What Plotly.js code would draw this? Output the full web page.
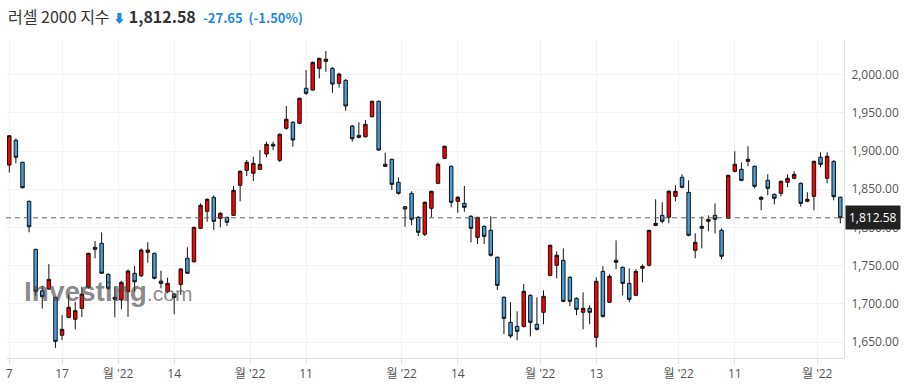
<!DOCTYPE html>
<html>
<head>
<meta charset="utf-8">
<script src="https://cdn.plot.ly/plotly-3.0.1.min.js"></script>
<style>html,body{margin:0;padding:0;background:#fff;}#chart{width:906px;height:390px;}</style>
</head>
<body>
<div id="chart"></div>
<script>
var openP = [1881.7,1914.0,1885.2,1834.2,1771.3,1717.1,1719.4,1708.5,1658.8,1682.3,1679.7,1694.1,1721.6,1774.0,1779.2,1738.6,1705.9,1705.0,1715.8,1740.0,
1736.8,1767.4,1766.1,1729.8,1715.8,1712.8,1725.5,1759.6,1755.1,1798.8,1821.1,1839.4,1811.9,1813.2,1815.8,1855.1,1874.7,1870.8,1876.0,1896.1,
1908.8,1887.8,1929.7,1937.6,1936.3,1982.1,1979.8,2008.2,2017.4,2008.2,1988.6,1992.5,1932.7,1920.5,1918.7,1944.9,1965.1,1880.0,1889.1,1859.0,
1827.1,1844.6,1813.2,1791.0,1825.0,1857.7,1890.4,1880.0,1834.2,1831.5,1814.5,1787.0,1801.4,1796.2,1760.9,1708.5,1675.8,1670.5,1670.5,1711.1,
1673.2,1688.9,1737.3,1750.4,1756.9,1734.7,1707.2,1688.9,1694.1,1656.2,1742.5,1702.0,1756.9,1747.8,1726.8,1711.1,1746.5,1750.4,1802.7,1815.8,
1813.2,1840.7,1865.6,1845.9,1770.0,1801.4,1808.0,1815.8,1796.2,1811.9,1873.4,1876.0,1886.5,1880.0,1836.8,1861.6,1843.3,1844.6,1859.0,1864.3,
1857.7,1834.2,1840.7,1891.8,1864.3,1886.5,1839.4];
var highP = [1921.0,1916.6,1886.0,1835.0,1772.0,1723.7,1752.0,1709.0,1685.3,1712.8,1702.7,1722.4,1767.0,1782.2,1793.6,1740.0,1722.4,1730.0,1745.0,1749.5,
1772.6,1780.6,1767.0,1743.3,1734.2,1714.0,1747.0,1774.0,1801.0,1831.5,1838.0,1842.0,1820.0,1814.0,1854.2,1875.0,1888.2,1892.5,1901.3,1912.2,
1912.2,1923.0,1958.9,1939.0,1970.0,2006.0,2017.0,2022.0,2030.9,2010.0,2002.5,1994.0,1934.0,1937.6,1940.6,1966.0,1966.0,1897.8,1890.0,1865.6,
1828.0,1847.3,1815.0,1834.0,1848.0,1885.2,1907.0,1881.0,1841.0,1854.2,1816.0,1814.0,1803.0,1814.5,1762.0,1710.0,1702.0,1690.2,1725.9,1712.5,
1708.5,1717.7,1777.5,1768.7,1772.6,1736.0,1708.5,1715.1,1698.0,1734.7,1749.1,1738.6,1783.1,1749.0,1746.5,1745.2,1751.7,1797.0,1836.8,1832.9,
1848.6,1855.1,1869.5,1861.6,1792.3,1814.5,1815.8,1831.5,1798.8,1869.0,1899.6,1885.2,1906.2,1881.0,1841.0,1869.5,1844.5,1861.5,1869.5,1873.4,
1859.0,1846.0,1887.5,1898.3,1898.3,1888.0,1840.5];
var lowP = [1872.0,1884.0,1851.0,1793.6,1710.6,1694.0,1718.0,1642.5,1652.6,1681.0,1666.6,1682.7,1720.0,1759.6,1739.0,1718.0,1682.3,1692.8,1683.0,1715.8,
1735.0,1753.8,1732.0,1720.3,1714.0,1686.3,1711.5,1739.0,1754.0,1798.0,1807.5,1796.6,1800.1,1802.0,1815.0,1834.2,1867.3,1860.7,1875.0,1891.8,
1901.3,1885.6,1928.0,1905.6,1935.0,1973.3,1979.0,1995.1,2003.8,1976.3,1982.9,1952.7,1912.2,1916.5,1917.5,1944.0,1900.0,1879.0,1849.0,1843.0,
1800.9,1803.1,1788.7,1788.7,1813.2,1857.0,1889.5,1826.3,1819.2,1820.5,1780.5,1778.3,1778.3,1762.0,1718.1,1660.5,1655.2,1652.2,1669.0,1657.5,
1665.0,1673.2,1736.0,1733.4,1702.0,1696.7,1685.0,1666.6,1673.2,1643.0,1682.0,1701.0,1745.2,1711.1,1702.0,1710.0,1728.1,1749.0,1801.5,1805.4,
1805.4,1834.2,1851.0,1788.5,1759.6,1772.6,1794.9,1792.3,1758.2,1811.0,1872.0,1860.5,1880.0,1851.2,1822.4,1842.0,1830.2,1840.7,1852.5,1863.0,
1827.1,1833.0,1822.4,1878.7,1857.7,1835.5,1805.4];
var closeP = [1920.0,1891.8,1852.0,1800.9,1716.4,1709.3,1732.0,1650.9,1666.6,1695.4,1691.0,1712.8,1766.1,1771.3,1740.0,1720.3,1708.5,1728.1,1742.9,1728.9,
1770.4,1770.4,1733.4,1726.8,1726.8,1708.5,1745.5,1740.0,1800.1,1828.9,1836.8,1808.0,1818.5,1806.7,1848.6,1873.4,1885.2,1883.9,1882.6,1908.8,
1906.5,1921.9,1941.5,1914.4,1969.0,1975.5,2016.1,2021.3,2020.1,1987.7,2000.8,1958.9,1916.1,1917.9,1934.9,1965.1,1901.3,1882.6,1856.4,1844.6,
1824.1,1810.6,1793.6,1832.9,1847.3,1882.6,1906.2,1832.9,1839.4,1826.3,1798.8,1813.2,1788.3,1763.5,1724.2,1681.0,1657.9,1664.0,1716.4,1675.8,
1666.6,1709.8,1776.6,1763.5,1703.3,1703.3,1692.8,1694.1,1688.9,1729.5,1683.6,1736.0,1754.3,1726.8,1705.9,1742.5,1749.1,1796.2,1805.4,1808.0,
1847.3,1847.3,1852.5,1789.7,1780.5,1798.8,1810.6,1810.6,1762.2,1868.2,1882.6,1861.6,1889.1,1853.8,1839.4,1851.2,1838.1,1860.3,1864.3,1869.5,
1831.5,1836.8,1886.5,1882.6,1893.1,1840.23,1812.58];

var tickPos = [0, 8, 16.5, 25, 36.5, 45, 59.5, 68, 80.5, 89, 101.5, 110, 122.5];
var tickLabels = ['7', '17', "월 '22", '14', "월 '22", '11', "월 '22", '14', "월 '22", '13', "월 '22", '11', "월 '22"];

var lastPrice = closeP[closeP.length - 1];
var idx = closeP.map(function (_, i) { return i; });

var trace = {
  type: 'candlestick',
  x: idx, open: openP, high: highP, low: lowP, close: closeP,
  increasing: { fillcolor: '#ff0000', line: { color: '#111', width: 1 } },
  decreasing: { fillcolor: '#4a9edb', line: { color: '#111', width: 1 } },
  whiskerwidth: 0,
  hoverinfo: 'skip'
};

var layout = {
  width: 906, height: 390,
  margin: { l: 6, r: 62, t: 40, b: 32 },
  paper_bgcolor: '#fff', plot_bgcolor: '#fff',
  showlegend: false,
  boxgap: 0.25,
  title: {
    text: "러셀 2000 지수 <span style='font-size:12px;color:#1e88e5'>⬇</span> <b>1,812.58</b>  <span style='font-size:13px;color:#1e88e5'><b>-27.65</b>  <b>(-1.50%)</b></span>",
    x: 8 / 906, xref: 'container', xanchor: 'left',
    y: 1 - 17 / 390, yref: 'container', yanchor: 'middle',
    font: { family: 'Noto Sans CJK KR, Noto Sans, sans-serif', size: 16, color: '#333' }
  },
  xaxis: {
    type: 'linear', range: [-0.5, 126.56],
    tickmode: 'array', tickvals: tickPos, ticktext: tickLabels,
    showgrid: true, gridcolor: '#f3f3f3', zeroline: false,
    showline: true, linecolor: '#dde0e6', linewidth: 1,
    ticks: 'outside', ticklen: 5, tickcolor: '#dde0e6',
    tickfont: { family: 'Open Sans, Noto Sans CJK KR, sans-serif', size: 12, color: '#555' },
    rangeslider: { visible: false }, fixedrange: true
  },
  yaxis: {
    side: 'right', range: [1629.1, 2045.3],
    tick0: 0, dtick: 50, tickformat: ',.2f',
    showgrid: true, gridcolor: '#f3f3f3', zeroline: false,
    showline: true, linecolor: '#dde0e6', linewidth: 1,
    ticks: '', ticklabelstandoff: 4,
    tickfont: { family: 'Open Sans, sans-serif', size: 12, color: '#555' },
    fixedrange: true
  },
  shapes: [{
    type: 'line', xref: 'paper', x0: 0, x1: 1, yref: 'y', y0: lastPrice, y1: lastPrice,
    line: { color: '#666', width: 1, dash: '5px,4px' }
  }],
  annotations: [
    {
      xref: 'paper', x: 16 / 838, xanchor: 'left', yref: 'paper', y: 0.21, yanchor: 'middle',
      showarrow: false,
      text: "<b>Investing</b><span style='font-size:21px'>.com</span>",
      font: { family: 'Liberation Sans, Arial, sans-serif', size: 28, color: 'rgba(70,70,70,0.65)' }
    },
    {
      xref: 'paper', x: 1, xanchor: 'left', xshift: 1, yref: 'y', y: lastPrice, yanchor: 'middle',
      showarrow: false, text: lastPrice.toLocaleString('en-US', { minimumFractionDigits: 2 }),
      bgcolor: '#222', borderpad: 3,
      font: { family: 'Open Sans, sans-serif', size: 12, color: '#fff' }
    }
  ]
};

Plotly.newPlot('chart', [trace], layout, { displayModeBar: false, staticPlot: true });
</script>
</body>
</html>
